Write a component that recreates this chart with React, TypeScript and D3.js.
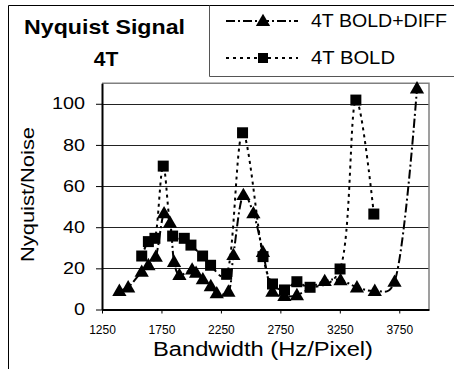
import React, { useRef, useEffect } from 'react';
import * as d3 from 'd3';

// 4T BOLD+DIFF (triangles)
const diffX = [1396, 1470, 1584, 1640, 1702, 1772, 1822, 1856, 1901, 2008, 2041, 2098, 2165, 2215, 2313, 2355, 2439, 2523, 2603, 2683, 2784, 2889, 3123, 3256, 3394, 3544, 3710, 3899];
const diffY = [9.1, 10.8, 18.4, 21.6, 25.7, 46.8, 42.2, 23.2, 16.8, 19.5, 17.9, 14.7, 11.4, 7.9, 8.7, 26.5, 55.7, 46.8, 28, 8.7, 6.6, 7, 13.9, 14.3, 10.8, 9.1, 13.5, 107.5];

// 4T BOLD (squares)
const boldX = [1584, 1640, 1695, 1765, 1844, 1942, 1998, 2096, 2163, 2298, 2432, 2604, 2684, 2785, 2889, 3000, 3252, 3385, 3536];
const boldY = [26, 33, 34.6, 69.7, 35.7, 34.6, 31.3, 26, 21.5, 17.1, 85.9, 25.7, 12.4, 9.5, 13.5, 10.8, 19.7, 101.8, 46.4];

const xTicks = [1250, 1750, 2250, 2750, 3250, 3750];
const yTicks = [0, 20, 40, 60, 80, 100];
const seriesNames = ['4T BOLD+DIFF', '4T BOLD'];

const FONT = 'Liberation Sans, Arial, sans-serif';
const W = 454;
const H = 369;

type Pt = { x: number; y: number };

export default function App() {
  const svgRef = useRef<SVGSVGElement | null>(null);

  useEffect(() => {
    const svg = d3.select(svgRef.current);
    svg.selectAll('*').remove();

    const plot = { left: 102, right: 429, top: 83.2, bottom: 309.5 };
    const xScale = d3.scaleLinear().domain([1250, 4000]).range([plot.left, plot.right]);
    const yScale = d3.scaleLinear().domain([0, 110]).range([plot.bottom, plot.top]);

    svg.append('rect').attr('width', W).attr('height', H).attr('fill', '#fff');

    // outer chart frame (cropped at right / bottom)
    svg.append('path')
      .attr('d', `M8.5,${H} V5.5 H${W}`)
      .attr('fill', 'none')
      .attr('stroke', '#000')
      .attr('stroke-width', 1);

    // title
    svg.append('text')
      .attr('x', 24).attr('y', 34)
      .attr('font-family', FONT).attr('font-weight', 'bold').attr('font-size', 21)
      .attr('textLength', 161).attr('lengthAdjust', 'spacingAndGlyphs')
      .text('Nyquist Signal');
    svg.append('text')
      .attr('x', 106).attr('y', 66)
      .attr('text-anchor', 'middle')
      .attr('font-family', FONT).attr('font-weight', 'bold').attr('font-size', 21)
      .text('4T');

    // gridlines
    yTicks.filter(t => t > 0).forEach(t => {
      svg.append('line')
        .attr('x1', plot.left).attr('x2', plot.right)
        .attr('y1', Math.round(yScale(t)) + 0.5).attr('y2', Math.round(yScale(t)) + 0.5)
        .attr('stroke', '#222').attr('stroke-width', 1);
    });

    // plot border (top / right)
    svg.append('path')
      .attr('d', `M${plot.left},${plot.top} H${plot.right} V${plot.bottom}`)
      .attr('fill', 'none')
      .attr('stroke', '#808080')
      .attr('stroke-width', 1.5);

    // axes
    const xAxis = svg.append('g')
      .attr('transform', `translate(0,${plot.bottom})`)
      .call(d3.axisBottom(xScale).tickValues(xTicks).tickSizeInner(4).tickSizeOuter(0).tickPadding(12).tickFormat(d => String(d)));
    xAxis.select('.domain').attr('stroke', '#000').attr('stroke-width', 2);
    xAxis.selectAll('.tick line').attr('stroke', '#000');
    xAxis.selectAll('.tick text').attr('font-family', FONT).attr('font-size', 12).attr('fill', '#000');

    const yAxis = svg.append('g')
      .attr('transform', `translate(${plot.left},0)`)
      .call(d3.axisLeft(yScale).tickValues(yTicks).tickSizeInner(6).tickSizeOuter(0).tickPadding(11));
    yAxis.select('.domain').attr('stroke', '#000').attr('stroke-width', 2);
    yAxis.selectAll('.tick line').attr('stroke', '#000');
    yAxis.selectAll<SVGTextElement, number>('.tick text')
      .attr('font-family', FONT).attr('font-size', 16).attr('fill', '#000')
      .attr('textLength', d => String(d).length * 11)
      .attr('lengthAdjust', 'spacingAndGlyphs');

    // axis titles
    svg.append('text')
      .attr('x', 153).attr('y', 356)
      .attr('font-family', FONT).attr('font-size', 20)
      .attr('textLength', 220).attr('lengthAdjust', 'spacingAndGlyphs')
      .text('Bandwidth (Hz/Pixel)');
    svg.append('text')
      .attr('transform', 'translate(34,194.5) rotate(-90)')
      .attr('text-anchor', 'middle')
      .attr('font-family', FONT).attr('font-size', 19)
      .attr('textLength', 135).attr('lengthAdjust', 'spacingAndGlyphs')
      .text('Nyquist/Noise');

    const diffPts: Pt[] = diffX.map((x, i) => ({ x, y: diffY[i] }));
    const boldPts: Pt[] = boldX.map((x, i) => ({ x, y: boldY[i] }));

    const line = d3.line<Pt>()
      .x(d => xScale(d.x))
      .y(d => yScale(d.y))
      .curve(d3.curveCatmullRom.alpha(0.25));

    const triangle = d3.symbol().type(d3.symbolTriangle).size(88);
    const square = (s: number) => `M${-s / 2},${-s / 2}h${s}v${s}h${-s}Z`;

    // square series
    svg.append('path')
      .datum(boldPts)
      .attr('d', line)
      .attr('fill', 'none')
      .attr('stroke', '#000')
      .attr('stroke-width', 2)
      .attr('stroke-dasharray', '3,4');
    boldPts.forEach(d => {
      svg.append('path')
        .attr('d', square(11))
        .attr('transform', `translate(${xScale(d.x)},${yScale(d.y)})`)
        .attr('fill', '#000');
    });

    // triangle series
    svg.append('path')
      .datum(diffPts)
      .attr('d', line)
      .attr('fill', 'none')
      .attr('stroke', '#000')
      .attr('stroke-width', 2)
      .attr('stroke-dasharray', '9,3,2,3');
    diffPts.forEach(d => {
      svg.append('path')
        .attr('d', triangle()!)
        .attr('transform', `translate(${xScale(d.x)},${yScale(d.y) + 1})`)
        .attr('fill', '#000');
    });

    // legend
    svg.append('path')
      .attr('d', `M209.5,5.5 V76.5 H${W}`)
      .attr('fill', 'none')
      .attr('stroke', '#555')
      .attr('stroke-width', 1);

    const legend = [
      { y: 21, dash: '9,3,2,3', marker: triangle()!, offset: 1 },
      { y: 58, dash: '3,4', marker: square(10), offset: 0 },
    ];
    legend.forEach((l, i) => {
      svg.append('line')
        .attr('x1', 226).attr('x2', 298)
        .attr('y1', l.y).attr('y2', l.y)
        .attr('stroke', '#000').attr('stroke-width', 2)
        .attr('stroke-dasharray', l.dash);
      svg.append('path')
        .attr('d', l.marker)
        .attr('transform', `translate(263,${l.y + l.offset})`)
        .attr('fill', '#000');
      svg.append('text')
        .attr('x', 311).attr('y', l.y + 6)
        .attr('font-family', FONT).attr('font-size', 18)
        .attr('textLength', i === 0 ? 136 : 84).attr('lengthAdjust', 'spacingAndGlyphs')
        .text(seriesNames[i]);
    });
  }, []);

  return (
    <div style={{ position: 'absolute', left: 0, top: 0 }}>
      <svg ref={svgRef} width={W} height={H} style={{ display: 'block' }} />
    </div>
  );
}
